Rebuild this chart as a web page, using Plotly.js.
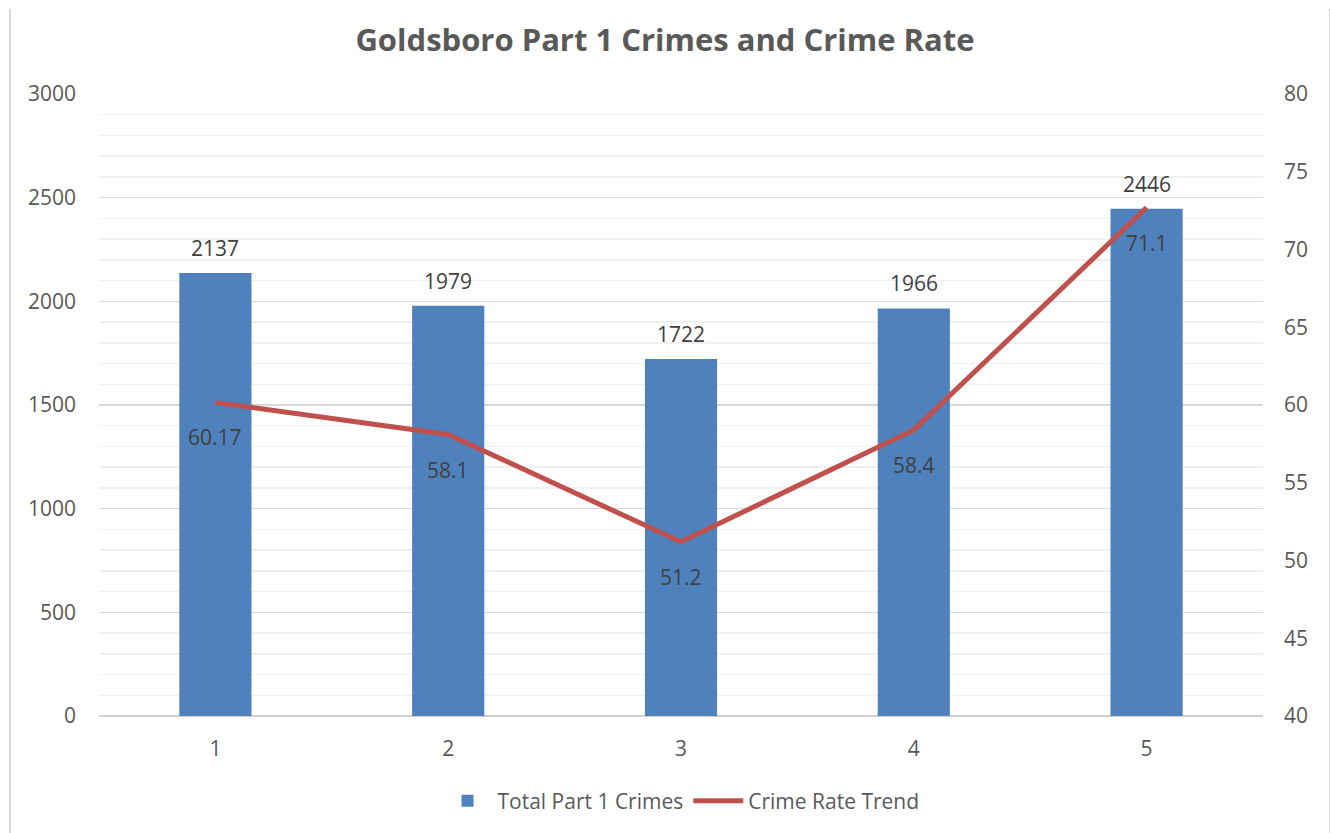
<!DOCTYPE html>
<html>
<head>
<meta charset="utf-8">
<script src="https://cdn.plot.ly/plotly-3.0.1.min.js"></script>
<style>
html,body{margin:0;padding:0;background:#fff;}
#chart{width:1330px;height:833px;position:relative;}
#frame{position:absolute;left:9px;top:9px;width:1318px;height:824px;border-left:2px solid #d9d9d9;border-right:2px solid #d9d9d9;pointer-events:none;}
</style>
</head>
<body>
<div id="chart"></div>
<div id="frame"></div>
<script>
const categories = [1, 2, 3, 4, 5];
const totalCrimes = [2137, 1979, 1722, 1966, 2446];
const crimeRate = [60.17, 58.1, 51.2, 58.4, 72.7];
const crimeRateLabels = ["60.17", "58.1", "51.2", "58.4", "71.1"];
const leftTicks = [0, 500, 1000, 1500, 2000, 2500, 3000];
const rightTicks = [40, 45, 50, 55, 60, 65, 70, 75, 80];

const font = "Open Sans, Liberation Sans, sans-serif";
const txt = "#595959";
const lblColor = "#404040";
const fs = 21;

const traces = [
  {
    type: "bar",
    name: "Total Part 1 Crimes",
    x: categories,
    y: totalCrimes,
    width: 0.31,
    marker: {color: "#4f81bd"}
  },
  {
    type: "scatter",
    mode: "lines",
    name: "Crime Rate Trend",
    x: categories,
    y: crimeRate,
    yaxis: "y2",
    line: {color: "#c0504d", width: 5}
  }
];

const annotations = [];
categories.forEach((c, i) => {
  annotations.push({
    x: c, y: totalCrimes[i], xref: "x", yref: "y",
    text: String(totalCrimes[i]), showarrow: false,
    yanchor: "middle", yshift: 25,
    font: {family: font, size: fs, color: lblColor}
  });
  annotations.push({
    x: c, y: crimeRate[i], xref: "x", yref: "y2",
    text: crimeRateLabels[i], showarrow: false,
    yanchor: "middle", yshift: -35,
    font: {family: font, size: fs, color: lblColor}
  });
});

const layout = {
  width: 1330,
  height: 833,
  paper_bgcolor: "#fff",
  plot_bgcolor: "#fff",
  margin: {l: 99, r: 67, t: 94, b: 116},
  title: {
    text: "<b>Goldsboro Part 1 Crimes and Crime Rate</b>",
    x: 0.5, xanchor: "center",
    y: 0.952, yanchor: "middle",
    font: {family: font, size: 31, color: txt}
  },
  font: {family: font, color: txt},
  showlegend: true,
  legend: {
    orientation: "h",
    x: 0.5, xanchor: "center",
    y: -0.135, yanchor: "middle",
    font: {family: font, size: fs, color: txt},
    traceorder: "normal",
    itemwidth: 50
  },
  annotations: annotations,
  xaxis: {
    range: [0.5, 5.5],
    tickvals: categories,
    ticktext: categories.map(String),
    showgrid: false,
    zeroline: false,
    showline: false,
    ticks: "",
    ticklabelstandoff: 18,
    tickfont: {family: font, size: fs, color: txt},
    fixedrange: true
  },
  yaxis: {
    range: [0, 3000],
    tickvals: leftTicks,
    ticktext: leftTicks.map(String),
    showgrid: true,
    gridcolor: "#d9d9d9",
    gridwidth: 1.5,
    minor: {dtick: 100, showgrid: true, gridcolor: "#f0f0f0", gridwidth: 1.5},
    zeroline: true,
    zerolinecolor: "#d0d0d0",
    zerolinewidth: 1.5,
    showline: false,
    ticks: "",
    ticklabelstandoff: 22,
    tickfont: {family: font, size: fs, color: txt}
  },
  yaxis2: {
    overlaying: "y",
    side: "right",
    range: [40, 80],
    tickvals: rightTicks,
    ticktext: rightTicks.map(String),
    showgrid: false,
    zeroline: false,
    showline: false,
    ticks: "",
    ticklabelstandoff: 20,
    tickfont: {family: font, size: fs, color: txt}
  }
};

Plotly.newPlot("chart", traces, layout, {displayModeBar: false, staticPlot: true});
</script>
</body>
</html>
